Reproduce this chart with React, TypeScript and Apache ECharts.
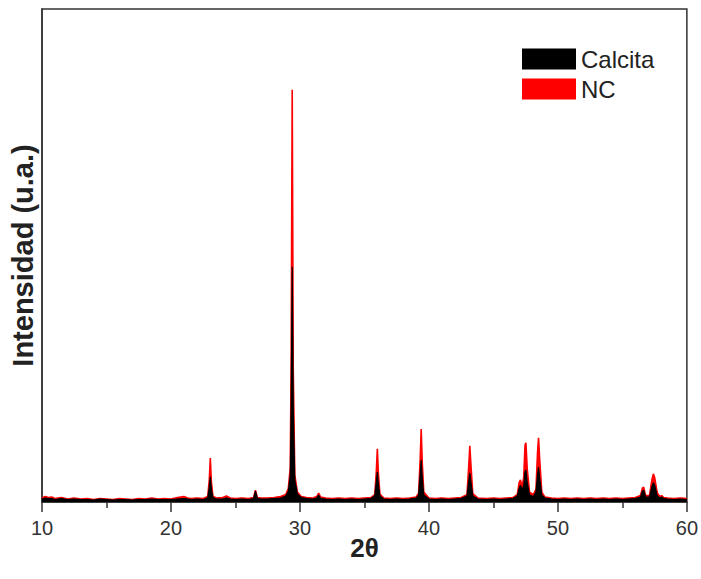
import React, { useEffect, useRef } from "react";
import * as echarts from "echarts";

// XRD patterns: [2θ (deg), intensity (a.u.)]
const calcitaPattern: [number, number][] = [
  [10, 6], [10.25, 8], [10.5, 7], [10.75, 7], [11, 5], [11.5, 7], [12, 5], [12.5, 6],
  [13, 5], [13.5, 5], [14, 4], [14.5, 6], [15, 5], [15.5, 4], [16, 5], [16.5, 5],
  [17, 4], [17.5, 5], [18, 5], [18.5, 6], [19, 5], [19.5, 5], [20, 5], [20.5, 6],
  [21, 7], [21.3, 6], [21.6, 5], [22, 6], [22.5, 5],
  [22.85, 8], [22.97, 30], [23.05, 51], [23.13, 26], [23.25, 9], [23.5, 6],
  [24, 6], [24.3, 8], [24.6, 6], [25, 5], [25.5, 6], [26, 5],
  [26.4, 7], [26.55, 22], [26.7, 7], [27, 6], [27.5, 6], [28, 7], [28.5, 8],
  [28.9, 12], [29.1, 22], [29.25, 55], [29.32, 200], [29.4, 477], [29.48, 190],
  [29.6, 45], [29.8, 16], [30.1, 9], [30.5, 7], [31, 6],
  [31.3, 8], [31.45, 14], [31.6, 7], [32, 6], [32.5, 5], [33, 6], [33.5, 5],
  [34, 6], [34.5, 5], [35, 6], [35.5, 7],
  [35.8, 12], [35.92, 40], [36.0, 61], [36.08, 36], [36.2, 12], [36.5, 6],
  [37, 5], [37.5, 6], [38, 5], [38.5, 6], [39, 8],
  [39.2, 14], [39.32, 55], [39.4, 85], [39.48, 50], [39.6, 14], [40, 6],
  [40.5, 5], [41, 6], [41.5, 5], [42, 6], [42.5, 7],
  [42.95, 12], [43.08, 40], [43.17, 59], [43.25, 42], [43.4, 12], [43.8, 6],
  [44.5, 5], [45, 6], [45.5, 5], [46, 6], [46.5, 7],
  [46.85, 12], [47.0, 28], [47.1, 34], [47.22, 24], [47.35, 34], [47.45, 62],
  [47.52, 65], [47.62, 40], [47.8, 14], [48.1, 11], [48.3, 20], [48.42, 55],
  [48.5, 71], [48.58, 50], [48.75, 14], [49, 8],
  [49.5, 6], [50, 5], [50.5, 6], [51, 5], [51.5, 6], [52, 5], [52.5, 6], [53, 5],
  [53.5, 6], [54, 5], [54.5, 6], [55, 5], [55.5, 6], [56, 7],
  [56.4, 10], [56.55, 22], [56.65, 24], [56.8, 10], [57.1, 10], [57.28, 30],
  [57.4, 39], [57.5, 34], [57.7, 13], [57.9, 8], [58.05, 10], [58.2, 7],
  [58.5, 6], [59, 5], [59.5, 6], [60, 5],
];

const ncPattern: [number, number][] = [
  [10, 8], [10.25, 11], [10.5, 9], [10.75, 10], [11, 7], [11.5, 9], [12, 6], [12.5, 8],
  [13, 6], [13.5, 7], [14, 5], [14.5, 7], [15, 6], [15.5, 5], [16, 7], [16.5, 6],
  [17, 5], [17.5, 7], [18, 6], [18.5, 8], [19, 6], [19.5, 7], [20, 6], [20.5, 9],
  [21, 11], [21.3, 8], [21.6, 7], [22, 8], [22.5, 7],
  [22.85, 11], [22.97, 45], [23.05, 89], [23.13, 42], [23.25, 12], [23.5, 8],
  [24, 9], [24.3, 12], [24.6, 8], [25, 7], [25.5, 8], [26, 7],
  [26.4, 9], [26.55, 24], [26.7, 9], [27, 8], [27.5, 8], [28, 9], [28.5, 11],
  [28.9, 15], [29.1, 28], [29.25, 70], [29.32, 300], [29.4, 836], [29.48, 270],
  [29.6, 55], [29.8, 20], [30.1, 11], [30.5, 9], [31, 8],
  [31.3, 11], [31.45, 18], [31.6, 10], [32, 8], [32.5, 7], [33, 8], [33.5, 7],
  [34, 8], [34.5, 7], [35, 8], [35.5, 9],
  [35.8, 15], [35.92, 62], [36.0, 108], [36.08, 58], [36.2, 16], [36.5, 8],
  [37, 7], [37.5, 8], [38, 7], [38.5, 8], [39, 10],
  [39.2, 18], [39.32, 85], [39.4, 148], [39.48, 82], [39.6, 20], [40, 8],
  [40.5, 7], [41, 8], [41.5, 7], [42, 8], [42.5, 9],
  [42.95, 15], [43.08, 70], [43.17, 114], [43.25, 78], [43.4, 17], [43.8, 8],
  [44.5, 7], [45, 8], [45.5, 7], [46, 8], [46.5, 9],
  [46.85, 15], [47.0, 40], [47.1, 45], [47.22, 30], [47.35, 50], [47.45, 115],
  [47.52, 120], [47.62, 68], [47.8, 20], [48.1, 15], [48.3, 26], [48.42, 100],
  [48.5, 130], [48.58, 90], [48.75, 20], [49, 10],
  [49.5, 8], [50, 7], [50.5, 8], [51, 7], [51.5, 8], [52, 7], [52.5, 8], [53, 7],
  [53.5, 8], [54, 7], [54.5, 8], [55, 7], [55.5, 8], [56, 9],
  [56.4, 13], [56.55, 28], [56.65, 30], [56.8, 13], [57.1, 13], [57.28, 44],
  [57.4, 57], [57.5, 50], [57.7, 19], [57.9, 11], [58.05, 13], [58.2, 9],
  [58.5, 8], [59, 7], [59.5, 8], [60, 7],
];

const seriesNames = ["Calcita", "NC"];
const seriesColors = ["#000000", "#ff0000"];
const xTicks = [10, 20, 30, 40, 50, 60];

const FONT = 'Arial, "Liberation Sans", Helvetica, sans-serif';

export default function App() {
  const ref = useRef<HTMLDivElement>(null);

  useEffect(() => {
    document.body.style.margin = "0";
    if (!ref.current) return;
    const chart = echarts.init(ref.current, undefined, { renderer: "svg" });
    chart.setOption({
      animation: false,
      backgroundColor: "#ffffff",
      grid: {
        left: 42,
        right: 11,
        top: 9,
        bottom: 77,
        show: true,
        borderColor: "#333333",
        borderWidth: 1.5,
      },
      legend: {
        data: seriesNames,
        orient: "vertical",
        left: 522,
        top: 47,
        padding: 0,
        itemWidth: 54,
        itemHeight: 21,
        itemGap: 6,
        icon: "rect",
        textStyle: { fontFamily: FONT, fontSize: 24, color: "#222222", lineHeight: 21 },
      },
      xAxis: {
        type: "value",
        min: xTicks[0],
        max: xTicks[xTicks.length - 1],
        interval: 10,
        name: "2θ",
        nameLocation: "middle",
        nameGap: 33,
        nameMoveOverlap: false,
        nameTextStyle: { fontFamily: FONT, fontSize: 26, fontWeight: "bold", color: "#222222" },
        axisLine: { show: true, onZero: false, lineStyle: { color: "#333333", width: 1.5 } },
        axisTick: { show: true, length: 10, lineStyle: { color: "#333333", width: 1.5 } },
        minorTick: { show: true, splitNumber: 2, length: 6, lineStyle: { color: "#333333", width: 1.5 } },
        axisLabel: { fontFamily: FONT, fontSize: 20, color: "#333333", margin: 16 },
        splitLine: { show: false },
      },
      yAxis: {
        type: "value",
        min: 0,
        max: 1000,
        name: "Intensidad (u.a.)",
        nameLocation: "middle",
        nameGap: 5,
        nameMoveOverlap: false,
        nameTextStyle: { fontFamily: FONT, fontSize: 29, fontWeight: "bold", color: "#222222" },
        axisLine: { show: true, lineStyle: { color: "#333333", width: 1.5 } },
        axisTick: { show: false },
        axisLabel: { show: false },
        splitLine: { show: false },
      },
      series: [
        {
          name: seriesNames[0],
          type: "line",
          data: calcitaPattern,
          showSymbol: false,
          symbol: "none",
          z: 4,
          color: seriesColors[0],
          lineStyle: { color: seriesColors[0], width: 1.2 },
          areaStyle: { color: seriesColors[0], opacity: 1 },
        },
        {
          name: seriesNames[1],
          type: "line",
          data: ncPattern,
          showSymbol: false,
          symbol: "none",
          z: 3,
          color: seriesColors[1],
          lineStyle: { color: seriesColors[1], width: 1.6 },
          areaStyle: { color: seriesColors[1], opacity: 1 },
        },
      ],
    });
    return () => chart.dispose();
  }, []);

  return <div ref={ref} style={{ width: 701, height: 579 }} />;
}
